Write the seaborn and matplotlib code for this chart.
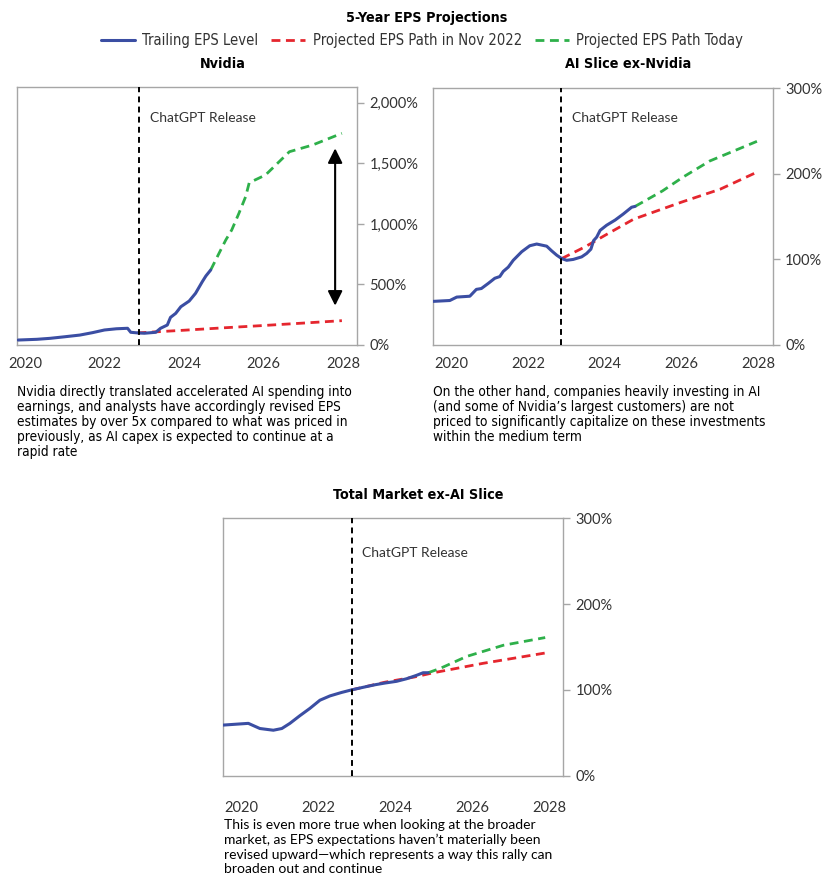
import numpy as np
import pandas as pd
import matplotlib
matplotlib.use('Agg')
import matplotlib.pyplot as plt
from matplotlib import font_manager
from matplotlib.ticker import FuncFormatter
import seaborn as sns

# -------------------------------------------------------
# Data (decimal years, EPS indexed to 100 at Nov 2022)
# -------------------------------------------------------
nv_trail_x = [2019.83, 2020.3, 2020.63, 2021.0, 2021.38, 2021.7, 2022.0, 2022.3, 2022.58,
              2022.66, 2022.83, 2023.0, 2023.29, 2023.41, 2023.58, 2023.66, 2023.79, 2023.92,
              2024.13, 2024.29, 2024.46, 2024.55, 2024.67]
nv_trail_y = [41, 47, 55, 68, 82, 102, 124, 134, 138,
              105, 100, 97, 105, 138, 165, 228, 261, 316,
              363, 427, 523, 570, 619]
nv_nov_x = [2022.83, 2024.0, 2025.0, 2026.0, 2027.0, 2027.97]
nv_nov_y = [100, 122, 142, 161, 181, 201]
nv_today_x = [2024.67, 2024.88, 2025.05, 2025.2, 2025.38, 2025.55, 2025.64, 2026.05, 2026.65, 2027.23, 2027.97]
nv_today_y = [619, 757, 867, 950, 1087, 1225, 1340, 1404, 1596, 1651, 1748]

ai_trail_x = [2019.54, 2019.97, 2020.15, 2020.49, 2020.66, 2020.79, 2020.97, 2021.14, 2021.27,
              2021.36, 2021.49, 2021.62, 2021.84, 2022.05, 2022.23, 2022.49, 2022.62, 2022.75,
              2022.88, 2023.01, 2023.18, 2023.40, 2023.53, 2023.64, 2023.71, 2023.79, 2023.88,
              2024.05, 2024.27, 2024.48, 2024.70, 2024.79]
ai_trail_y = [51, 52, 56, 57, 65, 66, 72, 78, 80,
              86, 91, 99, 109, 116, 118, 115.5, 110, 105,
              101, 99, 100, 103, 107, 112, 122, 126, 134,
              140, 146, 153, 161, 162]
ai_nov_x = [2022.88, 2023.5, 2024.0, 2024.75, 2026.0, 2027.0, 2027.96]
ai_nov_y = [101, 115, 128, 147, 167, 182, 202]
ai_today_x = [2024.79, 2025.5, 2026.03, 2026.73, 2027.96]
ai_today_y = [162, 180, 196, 215, 238]

tm_trail_x = [2019.54, 2020.19, 2020.49, 2020.84, 2021.06, 2021.27, 2021.53, 2021.79, 2022.05,
              2022.31, 2022.61, 2022.87, 2023.17, 2023.48, 2023.74, 2024.04, 2024.30, 2024.56,
              2024.73, 2024.86]
tm_trail_y = [59, 61, 55, 53, 55, 61, 70, 78.5, 88,
              93, 97, 100, 103, 106, 108, 110, 113, 117,
              120, 120]
tm_nov_x = [2022.87, 2023.74, 2024.5, 2025.0, 2026.29, 2027.9]
tm_nov_y = [100, 109, 115, 120, 131, 143]
tm_today_x = [2024.86, 2025.17, 2025.86, 2026.81, 2027.9]
tm_today_y = [120, 125, 139, 152, 161]

year_ticks = [2020, 2022, 2024, 2026, 2028]
chatgpt_release = 2022.87

series_labels = ['Trailing EPS Level', 'Projected EPS Path in Nov 2022', 'Projected EPS Path Today']

captions = [
    "Nvidia directly translated accelerated AI spending into\n"
    "earnings, and analysts have accordingly revised EPS\n"
    "estimates by over 5x compared to what was priced in\n"
    "previously, as AI capex is expected to continue at a\n"
    "rapid rate",
    "On the other hand, companies heavily investing in AI\n"
    "(and some of Nvidia\u2019s largest customers) are not\n"
    "priced to significantly capitalize on these investments\n"
    "within the medium term",
    "This is even more true when looking at the broader\n"
    "market, as EPS expectations haven\u2019t materially been\n"
    "revised upward\u2014which represents a way this rally can\n"
    "broaden out and continue",
]

# -------------------------------------------------------
# Style
# -------------------------------------------------------
sns.set_style("white")
plt.rcParams['font.family'] = ['Lato', 'DejaVu Sans']

names = {f.name for f in font_manager.fontManager.ttflist}
if 'Liberation Sans Narrow' in names:
    narrow = dict(family=['Liberation Sans Narrow', 'DejaVu Sans'])
else:
    narrow = dict(family=['DejaVu Sans'], stretch='condensed')

BLUE = '#3b4ea3'
RED = '#e5262e'
GREEN = '#2eb04a'
SPINE = '#a6a6a6'
TEXT = '#333333'
DASH = [3.2, 2.0]

W, H = 840, 891
fig = plt.figure(figsize=(W / 100, H / 100), dpi=100)


def px_axes(left, top, right, bottom):
    return fig.add_axes([left / W, 1 - bottom / H, (right - left) / W, (bottom - top) / H])


def draw_panel(ax, trail, nov, today, ylim, xlim, yticks, xpad, text_y):
    df_nov = pd.DataFrame({'x': nov[0], 'y': nov[1]})
    df_today = pd.DataFrame({'x': today[0], 'y': today[1]})
    df_trail = pd.DataFrame({'x': trail[0], 'y': trail[1]})
    sns.lineplot(data=df_nov, x='x', y='y', ax=ax, color=RED, lw=2.0,
                 estimator=None, sort=False, zorder=2).lines[-1].set_dashes(DASH)
    sns.lineplot(data=df_today, x='x', y='y', ax=ax, color=GREEN, lw=2.0,
                 estimator=None, sort=False, zorder=2).lines[-1].set_dashes(DASH)
    sns.lineplot(data=df_trail, x='x', y='y', ax=ax, color=BLUE, lw=2.2,
                 estimator=None, sort=False, zorder=3)
    ax.axvline(chatgpt_release, color='black', lw=1.4, ls=(0, (3, 2.2)), zorder=4)
    ax.text(chatgpt_release + 0.27, text_y, 'ChatGPT Release', fontsize=10,
            color=TEXT, va='center', ha='left')
    ax.set_xlim(*xlim)
    ax.set_ylim(*ylim)
    ax.set_xticks(year_ticks)
    ax.set_xticklabels([str(y) for y in year_ticks])
    ax.set_yticks(yticks)
    ax.yaxis.set_major_formatter(FuncFormatter(lambda v, p: f'{v:,.0f}%'))
    ax.yaxis.tick_right()
    ax.set_xlabel('')
    ax.set_ylabel('')
    for s in ax.spines.values():
        s.set_visible(True)
        s.set_color(SPINE)
        s.set_linewidth(1.0)
    ax.tick_params(axis='both', direction='out', length=5, width=1, color=SPINE,
                   labelcolor=TEXT, labelsize=10.5)
    ax.tick_params(axis='x', pad=xpad)
    ax.tick_params(axis='y', pad=4)


# --- Panel 1: Nvidia ---
ax1 = px_axes(17, 87.3, 357, 345)
draw_panel(ax1, (nv_trail_x, nv_trail_y), (nv_nov_x, nv_nov_y), (nv_today_x, nv_today_y),
           (0, 2128), (2019.8, 2028.35), [0, 500, 1000, 1500, 2000], 4, 1872)
ax1.annotate('', xy=(2027.8, 1624), xytext=(2027.8, 325),
             arrowprops=dict(arrowstyle='<|-|>', mutation_scale=22, lw=1.5, color='black',
                             shrinkA=0, shrinkB=0), zorder=5)

# --- Panel 2: AI Slice ex-Nvidia ---
ax2 = px_axes(433.3, 88.3, 772.7, 345)
draw_panel(ax2, (ai_trail_x, ai_trail_y), (ai_nov_x, ai_nov_y), (ai_today_x, ai_today_y),
           (0, 300), (2019.54, 2028.37), [0, 100, 200, 300], 4, 265)

# --- Panel 3: Total Market ex-AI Slice ---
ax3 = px_axes(223.3, 518.3, 563.3, 775.7)
draw_panel(ax3, (tm_trail_x, tm_trail_y), (tm_nov_x, tm_nov_y), (tm_today_x, tm_today_y),
           (0, 300), (2019.54, 2028.37), [0, 100, 200, 300], 13, 260)

# -------------------------------------------------------
# Titles, legend, captions
# -------------------------------------------------------
title_kw = dict(ha='center', va='center', fontsize=10.3, fontweight='bold', color='black', **narrow)
fig.text(427 / W, 1 - 18 / H, '5-Year EPS Projections', **title_kw)
fig.text(223 / W, 1 - 64 / H, 'Nvidia', **title_kw)
fig.text(628 / W, 1 - 64 / H, 'AI Slice ex-Nvidia', **title_kw)
fig.text(418 / W, 1 - 495 / H, 'Total Market ex-AI Slice', **title_kw)

handles = [ax1.lines[2], ax1.lines[0], ax1.lines[1]]
leg = fig.legend(handles, series_labels, loc='center', bbox_to_anchor=(422 / W, 1 - 41 / H),
                 ncol=3, frameon=False, handlelength=2.3, handletextpad=0.5, columnspacing=0.9,
                 prop=dict(size=10.6, **narrow))
for t in leg.get_texts():
    t.set_color(TEXT)

cap_kw = dict(ha='left', va='top', fontsize=9.8, color='black', linespacing=1.08, **narrow)
fig.text(17 / W, 1 - 385 / H, captions[0], **cap_kw)
fig.text(433 / W, 1 - 385 / H, captions[1], **cap_kw)
fig.text(224 / W, 1 - 819 / H, captions[2], ha='left', va='top', fontsize=10,
         color='black', linespacing=1.25)

fig.savefig('out.png', dpi=100)
